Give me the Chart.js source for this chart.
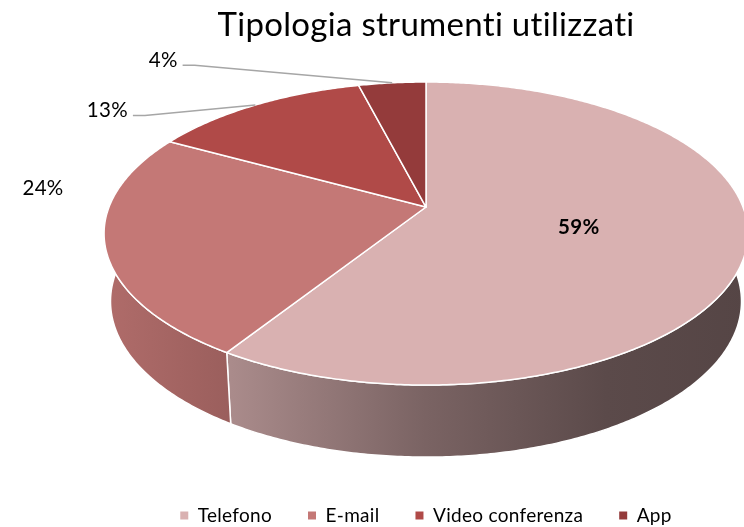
<!DOCTYPE html>
<html>
<head>
<meta charset="utf-8">
<script src="https://cdn.jsdelivr.net/npm/chart.js@4.4.0/dist/chart.umd.min.js"></script>
<style>
  body { margin: 0; background: #fff; }
  #wrap { width: 744px; height: 527px; overflow: hidden; }
</style>
</head>
<body>
<div id="wrap"><canvas id="chart" width="852" height="527"></canvas></div>
<script>
const labels = ['Telefono', 'E-mail', 'Video conferenza', 'App'];
const values = [59, 24, 13, 4];
const colors = ['#d9b1b1', '#c47876', '#b04a48', '#943b3b'];

// tilted 3D disc, sizes relative to the radius Chart.js lays out
const view = {
  scaleX: 1.477,
  scaleY: 0.6845,
  depth: 0.3122,
  liftY: 0.2255,
  perspective: 0.175,
  basePerspective: 0.07,
  baseShrink: 0.98
};
// light falloff across the side wall, left to right
const shade = [[0, 0.9], [0.19, 0.79], [0.5, 0.56], [0.78, 0.42], [1, 0.39]];
// where each percentage goes: inside at a radius fraction, or offset from the rim
const labelPlace = [
  { inside: 0.49 },
  { dx: -62, dy: -57 },
  { dx: -148, dy: 5.5, leader: true },
  { dx: -229, dy: -22.5, leader: true }
];

function rgb(hex) {
  const n = parseInt(hex.slice(1), 16);
  return [n >> 16, (n >> 8) & 255, n & 255];
}

// slightly open tracking, also keeps "ti" from joining
const spacing = {
  id: 'spacing',
  beforeUpdate(chart) { chart.ctx.letterSpacing = '0.3px'; },
  beforeDraw(chart) { chart.ctx.letterSpacing = '0.3px'; }
};

const pie3d = {
  id: 'pie3d',
  beforeDatasetsDraw(chart) {
    const ctx = chart.ctx;
    const arcs = chart.getDatasetMeta(0).data;
    const R = arcs[0].outerRadius;
    const cx = arcs[0].x;
    const cy = arcs[0].y - R * view.liftY;
    const a = R * view.scaleX, b = R * view.scaleY, d = R * view.depth;
    const p = view.perspective;

    const pt = (ang, r, base) => {
      const u = r * Math.cos(ang), v = r * Math.sin(ang), w = 1 - p * v;
      let x = cx + a * u / w, y = cy + b * v / w;
      if (base) {
        x = cx + (x - cx) * view.baseShrink;
        y += d / (1 - view.basePerspective * v);
      }
      return [x, y];
    };
    const half = a / Math.sqrt(1 - p * p);
    const left = cx - half, right = cx + half;

    ctx.save();
    ctx.lineJoin = 'round';

    // side walls, only the part facing us
    arcs.forEach((arc, i) => {
      const s = Math.max(arc.startAngle, -0.3);
      const e = Math.min(arc.endAngle, Math.PI + 0.3);
      if (e <= s) return;
      const n = Math.max(2, Math.ceil((e - s) / 0.01));
      ctx.beginPath();
      for (let k = 0; k <= n; k++) {
        const [x, y] = pt(s + (e - s) * k / n, 1, false);
        k ? ctx.lineTo(x, y) : ctx.moveTo(x, y);
      }
      for (let k = n; k >= 0; k--) {
        const [x, y] = pt(s + (e - s) * k / n, 1, true);
        ctx.lineTo(x, y);
      }
      ctx.closePath();
      const c = rgb(colors[i]);
      const g = ctx.createLinearGradient(left, 0, right, 0);
      shade.forEach(([t, l]) => {
        g.addColorStop(t, `rgb(${c.map(v => Math.round(v * l)).join(',')})`);
      });
      ctx.fillStyle = g;
      ctx.fill();
      ctx.strokeStyle = '#fff';
      ctx.lineWidth = 1.5;
      ctx.stroke();
    });

    // top faces
    arcs.forEach((arc, i) => {
      const s = arc.startAngle, e = arc.endAngle;
      const n = Math.max(2, Math.ceil((e - s) / 0.01));
      ctx.beginPath();
      ctx.moveTo(cx, cy);
      for (let k = 0; k <= n; k++) {
        const [x, y] = pt(s + (e - s) * k / n, 1, false);
        ctx.lineTo(x, y);
      }
      ctx.closePath();
      ctx.fillStyle = colors[i];
      ctx.fill();
      ctx.strokeStyle = '#fff';
      ctx.lineWidth = 1.5;
      ctx.stroke();
    });

    // percentage labels
    ctx.textAlign = 'center';
    ctx.textBaseline = 'middle';
    arcs.forEach((arc, i) => {
      const place = labelPlace[i];
      const mid = (arc.startAngle + arc.endAngle) / 2;
      const text = values[i] + '%';
      ctx.fillStyle = '#000';
      if (place.inside) {
        const [x, y] = pt(mid, place.inside, false);
        ctx.font = 'bold 20.5px Lato';
        ctx.fillText(text, x, y);
        return;
      }
      const [ex, ey] = pt(mid, 1, false);
      const tx = ex + place.dx, ty = ey + place.dy;
      ctx.font = '20.5px Lato';
      ctx.fillText(text, tx, ty);
      if (place.leader) {
        const sx = tx + ctx.measureText(text).width / 2 + 5, sy = ty + 5;
        ctx.beginPath();
        ctx.moveTo(sx, sy);
        ctx.lineTo(sx + 12, sy);
        ctx.lineTo(ex, ey);
        ctx.strokeStyle = '#a6a6a6';
        ctx.lineWidth = 1.5;
        ctx.stroke();
      }
    });

    ctx.restore();
    return false;
  }
};

Chart.defaults.font.family = 'Lato';

new Chart(document.getElementById('chart'), {
  type: 'pie',
  data: {
    labels: labels,
    datasets: [{
      data: values,
      backgroundColor: colors,
      borderWidth: 0
    }]
  },
  options: {
    responsive: false,
    devicePixelRatio: 1,
    animation: false,
    events: [],
    layout: {
      padding: { bottom: -8 }
    },
    plugins: {
      title: {
        display: true,
        text: 'Tipologia strumenti utilizzati',
        color: '#000',
        font: { size: 33, weight: 'normal', lineHeight: 0.958 },
        padding: { top: 9.2, bottom: 0 }
      },
      legend: {
        position: 'bottom',
        labels: {
          usePointStyle: true,
          pointStyle: 'rect',
          boxWidth: 8,
          boxHeight: 8,
          padding: 36,
          color: '#000',
          font: { size: 19 }
        }
      },
      tooltip: { enabled: false }
    }
  },
  plugins: [spacing, pie3d]
});
</script>
</body>
</html>
